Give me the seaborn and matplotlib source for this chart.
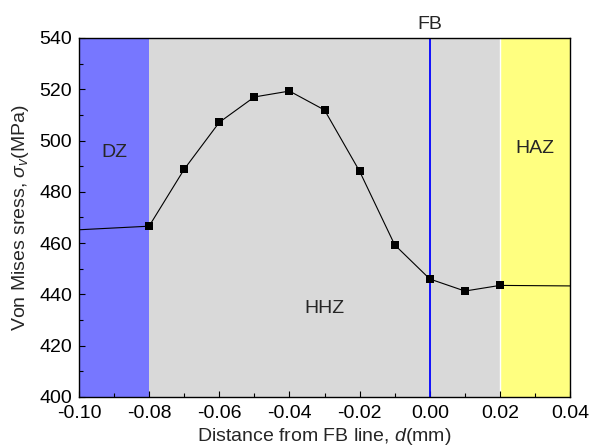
import matplotlib
matplotlib.use("Agg")
import matplotlib.pyplot as plt
from matplotlib.ticker import MultipleLocator, FormatStrFormatter
import seaborn as sns
import pandas as pd

# Data
distance = [-0.08, -0.07, -0.06, -0.05, -0.04, -0.03, -0.02, -0.01, 0.00, 0.01, 0.02]
stress = [466.6, 488.8, 507.1, 517.0, 519.3, 511.9, 488.0, 459.3, 446.0, 441.3, 443.5]
left_end = (-0.10, 465.2)
right_end = (0.04, 443.3)
zones = ["DZ", "HHZ", "HAZ"]
zone_bounds = [(-0.10, -0.08), (-0.08, 0.02), (0.02, 0.04)]
zone_colors = ["#7777ff", "#d9d9d9", "#ffff80"]
xticks = [-0.10, -0.08, -0.06, -0.04, -0.02, 0.00, 0.02, 0.04]
yticks = [400, 420, 440, 460, 480, 500, 520, 540]

sns.set_style("ticks")
plt.rcParams["font.family"] = ["Liberation Sans", "DejaVu Sans"]
plt.rcParams["mathtext.fontset"] = "custom"
plt.rcParams["mathtext.rm"] = "Liberation Sans"
plt.rcParams["mathtext.it"] = "Liberation Sans:italic"
plt.rcParams["axes.unicode_minus"] = False

FS = 14

fig = plt.figure(figsize=(5.89, 4.47), dpi=100)
ax = fig.add_axes([0.134, 0.112, 0.834, 0.803])

for (a, b), c in zip(zone_bounds, zone_colors):
    ax.axvspan(a, b, color=c, lw=0, zorder=0)
ax.axvline(0.02, color="white", lw=1, zorder=0.5)
ax.axvline(0.0, color="#0000ff", lw=1.3, zorder=1)

full = pd.DataFrame({"d": [left_end[0]] + distance + [right_end[0]],
                     "s": [left_end[1]] + stress + [right_end[1]]})
pts = pd.DataFrame({"d": distance, "s": stress})
sns.lineplot(data=full, x="d", y="s", ax=ax, color="black", lw=0.8, zorder=2)
sns.lineplot(data=pts, x="d", y="s", ax=ax, color="black", lw=0, marker="s",
             markersize=6, markeredgewidth=0, zorder=3)

ax.set_xlim(-0.10, 0.04)
ax.set_ylim(400, 540)
ax.set_xticks(xticks)
ax.set_yticks(yticks)
ax.xaxis.set_major_formatter(FormatStrFormatter("%.2f"))
ax.xaxis.set_minor_locator(MultipleLocator(0.01))
ax.yaxis.set_minor_locator(MultipleLocator(10))
ax.tick_params(which="both", direction="in", labelsize=FS, width=0.8, colors="black")
ax.tick_params(axis="y", which="major", length=4.5, pad=5)
ax.tick_params(axis="x", which="major", length=4.5, pad=6)
ax.tick_params(which="minor", length=3)
for sp in ax.spines.values():
    sp.set_linewidth(1)
    sp.set_color("black")
    sp.set_visible(True)

ax.set_xlabel("Distance from FB line, $\\mathit{d}$(mm)", fontsize=FS, labelpad=3)
ax.set_ylabel("Von Mises sress, $\\sigma_v$(MPa)", fontsize=FS, labelpad=6)

ax.text(-0.09, 495.5, zones[0], fontsize=FS, ha="center", va="center")
ax.text(-0.03, 434.5, zones[1], fontsize=FS, ha="center", va="center")
ax.text(0.03, 497, zones[2], fontsize=FS, ha="center", va="center")
ax.text(0.0, 542, "FB", fontsize=FS, ha="center", va="bottom", clip_on=False)

fig.savefig("out.png", dpi=100)
